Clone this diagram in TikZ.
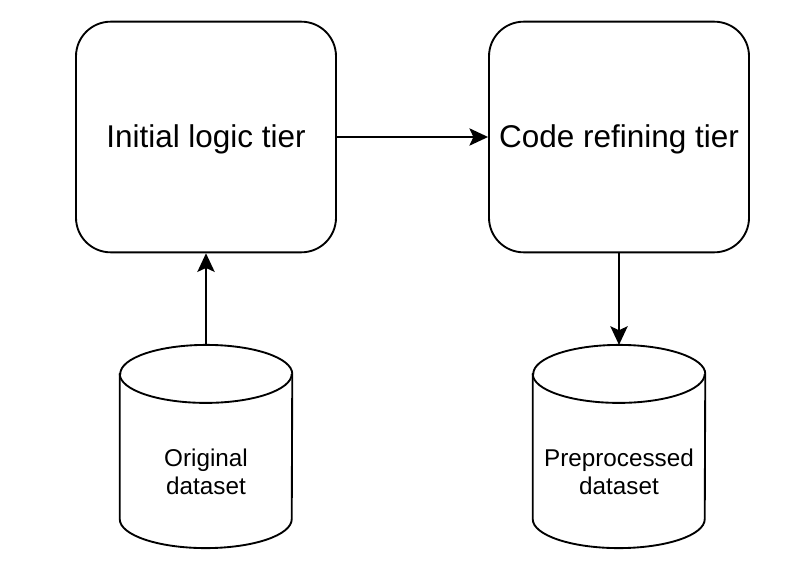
\documentclass[tikz,border=0pt]{standalone}
\usepackage{fontspec}
\setmainfont{Liberation Sans}
\usetikzlibrary{arrows.meta, positioning, calc}

\begin{document}
\begin{tikzpicture}[
      x=0.75pt, y=-0.75pt,
      tier/.style={draw, line width=1.4pt, rounded corners=26pt, minimum width=195pt, minimum height=173pt, align=center, inner sep=0pt, text height=20pt, text depth=4.2pt, font=\fontsize{23.6}{28}\selectfont},
      store/.style={minimum width=129pt, minimum height=152pt, inner sep=0pt},
      storetext/.style={align=center, font=\fontsize{18.2}{21}\selectfont},
      cyl/.style={draw, line width=1.4pt, fill=white},
      arr/.style={-{Stealth[length=14pt, width=13pt, inset=3pt]}, line width=1.4pt}
    ]
      \useasboundingbox (0,0) rectangle (798,574);

      \node[tier] (initial) at (206,137) {Initial logic tier};
      \node[tier] (refine) at (619,137) {Code refining tier};

      \node[store] (orig) at (206,446.5) {};
      \node[store] (prep) at (619,446.5) {};

      % Cylinders drawn round the store nodes
      \foreach \c in {orig, prep} {
        \draw[cyl] ($(\c.north west)+(0,-21.75pt)$) -- ($(\c.south west)+(0,21.75pt)$)
          arc[start angle=180, end angle=360, x radius=64.5pt, y radius=21.75pt]
          -- ($(\c.north east)+(0,-21.75pt)$)
          arc[start angle=0, end angle=180, x radius=64.5pt, y radius=21.75pt] -- cycle;
        \draw[line width=1.4pt] ($(\c.north west)+(0,-21.75pt)$)
          arc[start angle=180, end angle=360, x radius=64.5pt, y radius=21.75pt];
      }

      \node[storetext] (origtext) at (206,472) {Original\\dataset};
      \node[storetext] (preptext) at (619,472) {Preprocessed\\dataset};

      \draw[arr] (orig.north) -- (initial.south);
      \draw[arr] (initial.east) -- (refine.west);
      \draw[arr] (refine.south) -- (prep.north);
    \end{tikzpicture}
\end{document}
